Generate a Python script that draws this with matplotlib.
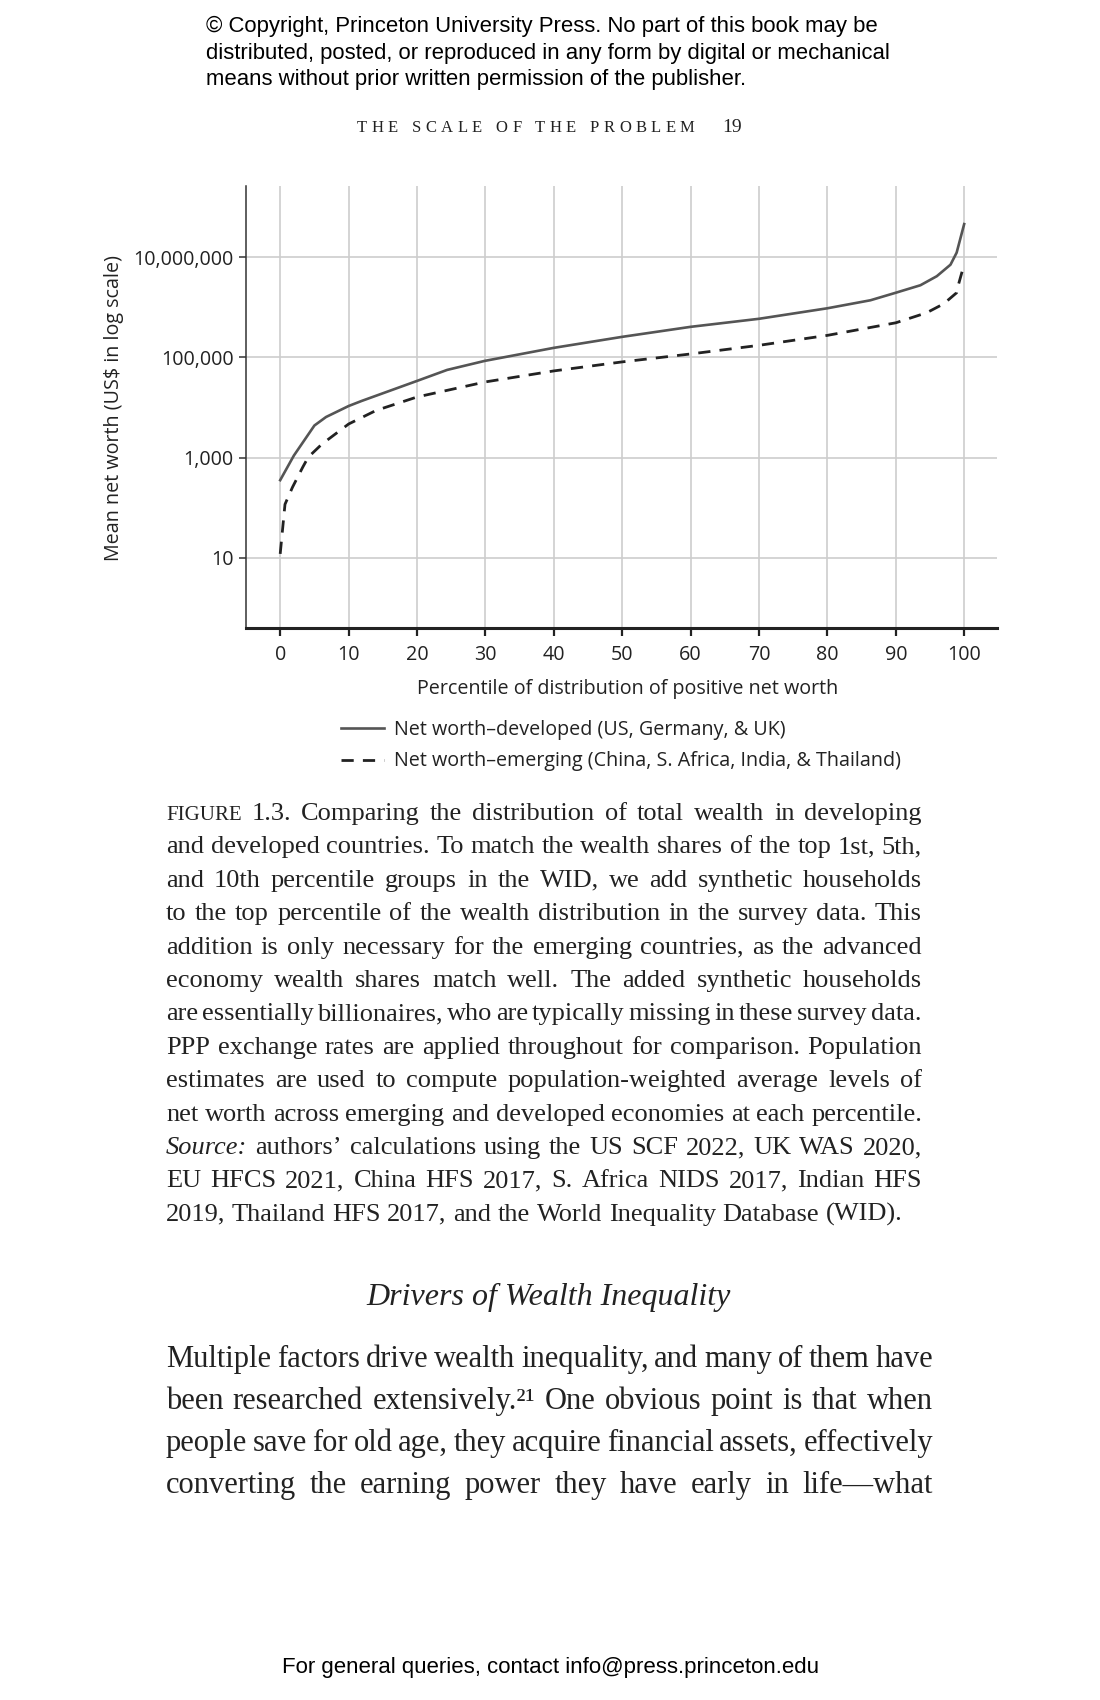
import numpy as np
import matplotlib.pyplot as plt
from matplotlib.ticker import FixedLocator, FuncFormatter, NullLocator

# Данные (перцентиль -> средняя чистая стоимость, US$)
pct_dev = [0, 2, 5, 6.7, 10, 11.9, 20, 24.4, 29.9, 40, 50, 60, 70, 80,
           86.3, 90, 93.6, 96, 98, 98.9, 100]
nw_dev = [355, 1100, 4370, 6460, 10700, 13500, 33900, 56200, 85100, 155000,
          257000, 407000, 589000, 955000, 1380000, 1950000, 2750000,
          4170000, 7080000, 12300000, 45700000]

pct_em = [0, 0.7, 1.8, 3.3, 4.1, 6.1, 10, 14, 20, 30, 40, 50, 60, 70, 80,
          90, 94.5, 97, 98.9, 99.2, 100]
nw_em = [12, 117, 257, 646, 1020, 1860, 4680, 8710, 16200, 32400, 53700,
         81300, 117000, 174000, 275000, 490000, 776000, 1170000, 1950000,
         2950000, 7240000]

x_ticks = [0, 10, 20, 30, 40, 50, 60, 70, 80, 90, 100]
y_ticks = [10, 1e3, 1e5, 1e7]

label_dev = "Net worth–developed (US, Germany, & UK)"
label_em = "Net worth–emerging (China, S. Africa, India, & Thailand)"

copyright_lines = [
    "© Copyright, Princeton University Press. No part of this book may be",
    "distributed, posted, or reproduced in any form by digital or mechanical",
    "means without prior written permission of the publisher.",
]

caption_lines = [
    "FIGURE 1.3. Comparing the distribution of total wealth in developing",
    "and developed countries. To match the wealth shares of the top 1st, 5th,",
    "and 10th percentile groups in the WID, we add synthetic households",
    "to the top percentile of the wealth distribution in the survey data. This",
    "addition is only necessary for the emerging countries, as the advanced",
    "economy wealth shares match well. The added synthetic households",
    "are essentially billionaires, who are typically missing in these survey data.",
    "PPP exchange rates are applied throughout for comparison. Population",
    "estimates are used to compute population-weighted average levels of",
    "net worth across emerging and developed economies at each percentile.",
    "Source: authors’ calculations using the US SCF 2022, UK WAS 2020,",
    "EU HFCS 2021, China HFS 2017, S. Africa NIDS 2017, Indian HFS",
    "2019, Thailand HFS 2017, and the World Inequality Database (WID).",
]

body_lines = [
    "Multiple factors drive wealth inequality, and many of them have",
    "been researched extensively.²¹ One obvious point is that when",
    "people save for old age, they acquire financial assets, effectively",
    "converting the earning power they have early in life—what",
]

W, H = 1100, 1700
sans = ["Open Sans", "DejaVu Sans"]
serif = ["Liberation Serif", "DejaVu Serif"]
ink = "#222222"
fs = 14.2

fig = plt.figure(figsize=(W / 100, H / 100), dpi=100)
fig.patch.set_facecolor("white")
renderer = fig.canvas.get_renderer()


def fy(y):
    return 1 - y / H


# Строка текста по ширине колонки (слова раздвигаются)
def text_line(y, line, x0, x1, justify=True, styles=None, **kw):
    styles = styles or {}
    arts = [fig.text(0, fy(y), w, va="baseline", **{**kw, **styles.get(w, {})})
            for w in line.split(" ")]
    widths = [t.get_window_extent(renderer).width for t in arts]
    space = kw.get("fontsize", 12) * 100 / 72 * 0.25
    if justify and len(arts) > 1:
        gap = (x1 - x0 - sum(widths)) / (len(arts) - 1)
    else:
        gap = space
    x = x0
    for t, w in zip(arts, widths):
        t.set_x(x / W)
        x += w + gap


# Текст с разрядкой букв
def tracked(x0, y, s, track, **kw):
    x = x0
    for ch in s:
        if ch == " ":
            x += kw.get("fontsize", 12) * 100 / 72 * 0.3 + track
            continue
        t = fig.text(x / W, fy(y), ch, va="baseline", **kw)
        x += t.get_window_extent(renderer).width + track
    return x


# Шапка страницы
for i, line in enumerate(copyright_lines):
    fig.text(206 / W, fy(32 + 26.5 * i), line, va="baseline",
             family="Liberation Sans", fontsize=15.9, color="black")
end = tracked(357, 132, "THE SCALE OF THE PROBLEM", 4.4,
              family=serif, fontsize=12, color=ink)
fig.text((end + 23) / W, fy(132), "19", va="baseline",
         family=serif, fontsize=14, color=ink)

# График
ax = fig.add_axes([246 / W, fy(628), (997 - 246) / W, (628 - 186) / H])
ax.plot(pct_dev, nw_dev, color="#555555", lw=1.9, label=label_dev)
ax.plot(pct_em, nw_em, color=ink, lw=2.0, ls=(0, (4.4, 3.3)), label=label_em)

ax.set_yscale("log")
ax.set_xlim(-5, 104.8)
ax.set_ylim(10 ** -0.4, 10 ** 8.42)
ax.xaxis.set_major_locator(FixedLocator(x_ticks))
ax.yaxis.set_major_locator(FixedLocator(y_ticks))
ax.yaxis.set_minor_locator(NullLocator())
ax.yaxis.set_major_formatter(FuncFormatter(lambda v, p: f"{v:,.0f}"))

ax.grid(True, color="#cdcdcd", lw=1.2)
ax.set_axisbelow(True)
for s in ["top", "right"]:
    ax.spines[s].set_visible(False)
ax.spines["left"].set_color("#333333")
ax.spines["left"].set_linewidth(1.1)
ax.spines["bottom"].set_color(ink)
ax.spines["bottom"].set_linewidth(2.2)
ax.tick_params(axis="x", length=6, width=1.6, color=ink, pad=6,
               labelsize=fs, labelcolor=ink)
ax.tick_params(axis="y", length=5, width=1.1, color="#333333", pad=4,
               labelsize=fs, labelcolor=ink)
for lab in ax.get_xticklabels() + ax.get_yticklabels():
    lab.set_family(sans)

ax.set_xlabel("Percentile of distribution of positive net worth",
              family=sans, fontsize=fs, color=ink)
ax.xaxis.set_label_coords(0.508, -0.1155)
ax.set_ylabel("Mean net worth (US$ in log scale)",
              family=sans, fontsize=fs, color=ink)
ax.yaxis.set_label_coords(-0.162, 0.498)

fig.legend(loc="upper left", bbox_to_anchor=(341 / W, fy(720)),
           frameon=False, borderpad=0, borderaxespad=0, handlelength=2.2,
           handletextpad=0.5, labelspacing=0.58,
           prop={"family": sans, "size": fs}, labelcolor=ink)

# Подпись к рисунку
cap_styles = {"FIGURE": {"fontsize": 15}, "Source:": {"style": "italic"}}
for i, line in enumerate(caption_lines):
    text_line(820 + 33.4 * i, line, 166, 922,
              justify=i < len(caption_lines) - 1, styles=cap_styles,
              family=serif, fontsize=19, color=ink)

# Заголовок раздела и основной текст
fig.text(549 / W, fy(1305), "Drivers of Wealth Inequality", ha="center",
         va="baseline", family=serif, style="italic", fontsize=23, color=ink)
for i, line in enumerate(body_lines):
    text_line(1367 + 41.9 * i, line, 166, 933, family=serif, fontsize=22,
              color=ink)

fig.text(551 / W, fy(1673), "For general queries, contact info@press.princeton.edu",
         ha="center", va="baseline", family="Liberation Sans", fontsize=16,
         color="black")

fig.savefig("out.png", dpi=100)
